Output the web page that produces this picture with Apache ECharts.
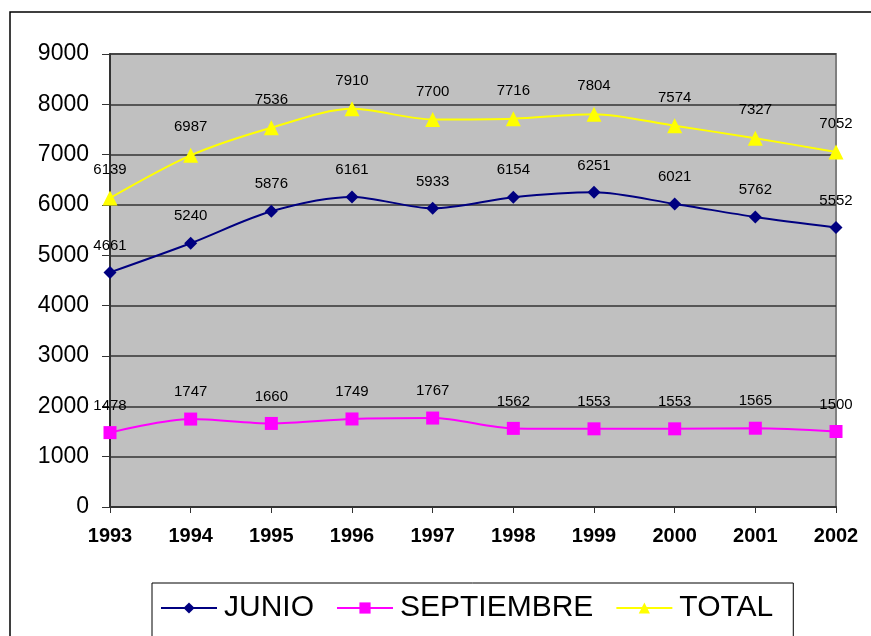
<!DOCTYPE html>
<html>
<head>
<meta charset="utf-8">
<script src="https://cdn.jsdelivr.net/npm/echarts@6/dist/echarts.min.js"></script>
<style>html,body{margin:0;padding:0;background:#fff;}#c{width:871px;height:636px;}</style>
</head>
<body>
<div id="c"></div>
<script>
const years = ['1993','1994','1995','1996','1997','1998','1999','2000','2001','2002'];
const junio = [4661, 5240, 5876, 6161, 5933, 6154, 6251, 6021, 5762, 5552];
const septiembre = [1478, 1747, 1660, 1749, 1767, 1562, 1553, 1553, 1565, 1500];
const total = [6139, 6987, 7536, 7910, 7700, 7716, 7804, 7574, 7327, 7052];

const chart = echarts.init(document.getElementById('c'), null, {renderer: 'canvas'});
const font = '"Liberation Sans", Arial, sans-serif';
function mk(name, data, color, symbol, size) {
  return {
    name: name, type: 'line', data: data, smooth: 0.3,
    symbol: symbol, symbolSize: size,
    lineStyle: {color: color, width: 2},
    itemStyle: {color: color},
    label: {show: true, position: 'top', distance: 13, color: '#000', fontSize: 15, fontFamily: font},
    animation: false
  };
}
chart.setOption({
  animation: false,
  textStyle: {fontFamily: font},
  graphic: [{type: 'rect', shape: {x: 10, y: 12, width: 880, height: 640}, style: {fill: null, stroke: '#000', lineWidth: 1.5}, z: -10}],
  grid: {left: 110, right: 35, top: 54, bottom: 129, show: true, backgroundColor: '#c0c0c0', borderColor: '#808080', borderWidth: 2},
  xAxis: {
    type: 'category', data: years, boundaryGap: false,
    axisLine: {lineStyle: {color: '#333', width: 2}},
    axisTick: {show: true, length: 6, alignWithLabel: true, lineStyle: {color: '#333'}},
    axisLabel: {color: '#000', fontSize: 20, fontWeight: 'bold', margin: 19, fontFamily: font}
  },
  yAxis: {
    type: 'value', min: 0, max: 9000, interval: 1000,
    axisLine: {show: true, lineStyle: {color: '#333', width: 2}},
    axisTick: {show: true, length: 8, lineStyle: {color: '#333'}},
    splitLine: {lineStyle: {color: '#333', width: 1.5}},
    axisLabel: {color: '#000', fontSize: 23, margin: 21, fontFamily: font, formatter: function (v) { return String(v); }}
  },
  legend: {
    left: 152, top: 583, orient: 'horizontal',
    borderColor: '#000', borderWidth: 1,
    padding: [10, 20, 30, 8], itemGap: 22,
    itemWidth: 56, itemHeight: 14,
    textStyle: {fontSize: 30, color: '#000', fontFamily: font, padding: [0, 0, 0, 2]},
    data: ['JUNIO', 'SEPTIEMBRE', 'TOTAL']
  },
  series: [
    mk('JUNIO', junio, '#000080', 'diamond', 13),
    mk('SEPTIEMBRE', septiembre, '#ff00ff', 'rect', 13),
    mk('TOTAL', total, '#ffff00', 'triangle', 15)
  ]
});
</script>
</body>
</html>
